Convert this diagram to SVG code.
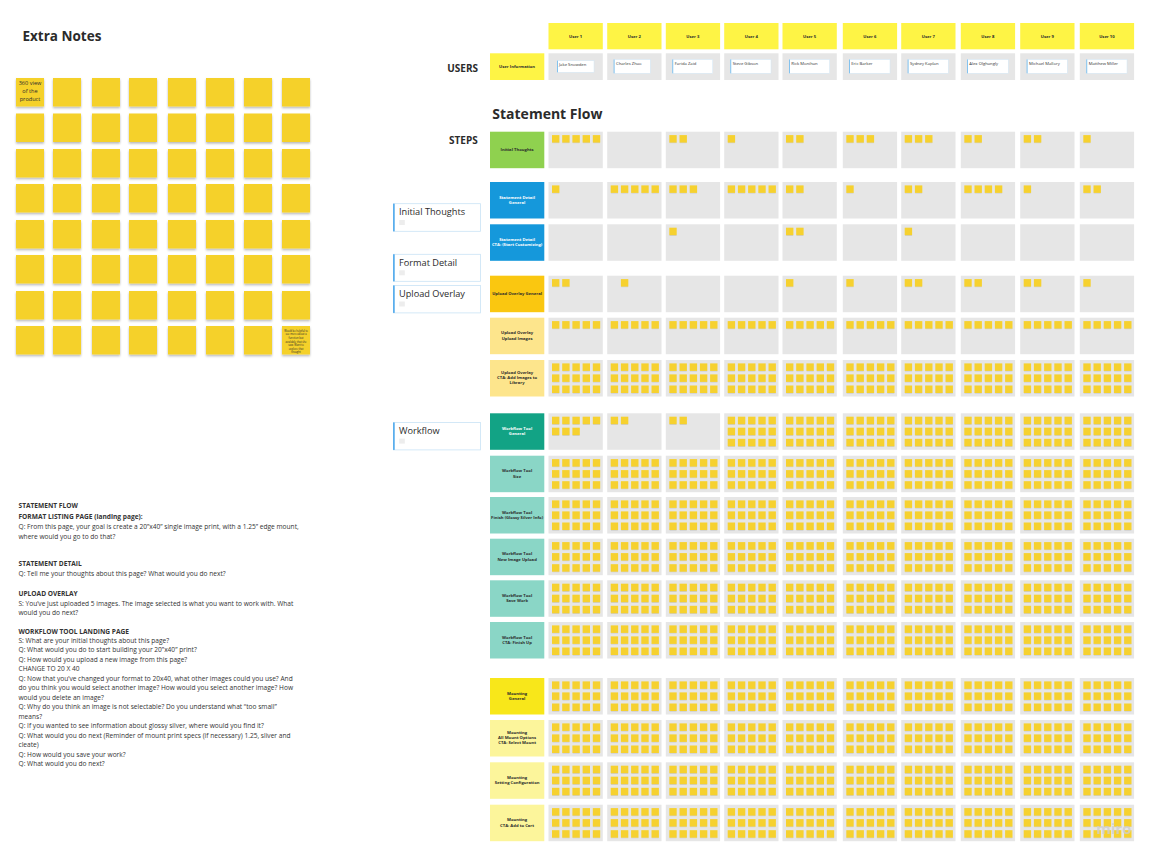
<svg xmlns="http://www.w3.org/2000/svg" xmlns:xlink="http://www.w3.org/1999/xlink" width="1158" height="862" viewBox="0 0 1158 862">
<style>
.cell{fill:#E6E6E6}
.st{fill:#F6D12F}
.sh{fill:#777;opacity:.3}
.big{fill:#F5D12C}
.t{font-family:"Open Sans","Liberation Sans",sans-serif;fill:#2b2b2b}
.b{font-weight:700}
.lbl{font-family:"Open Sans","Liberation Sans",sans-serif;font-weight:700;font-size:4.2px;text-anchor:middle;fill:#2b2b2b}
.w{fill:#fff}
.hd{fill:#FEF445}
.nm{font-family:"Open Sans","Liberation Sans",sans-serif;font-size:4.2px;fill:#333}
.ib{fill:#fff;stroke:#d2e8f7;stroke-width:.5}
.ibl{fill:#6BB7EC}
.body{font-family:"Open Sans","Liberation Sans",sans-serif;font-size:6.6px;fill:#333}
.side{fill:#fff;stroke:#c9e3f6;stroke-width:.8}
.sideb{fill:#4DA8EC}
.sq{fill:#EDEDED}
</style>
<defs>
<filter id="ds" x="-20%" y="-20%" width="140%" height="150%"><feDropShadow dx="0" dy="1.6" stdDeviation="0.9" flood-color="#000" flood-opacity="0.28"/></filter>
<g id="s"><rect class="sh" x="0.3" y="7.3" width="6.9" height="0.7"/><rect class="st" width="7.4" height="7.5"/></g>
<rect id="c" class="cell" width="54.3" height="36.5"/>
<g id="p1"><use href="#c"/><use href="#s" x="3.5" y="3.4"/></g>
<g id="p2"><use href="#p1"/><use href="#s" x="13.7" y="3.4"/></g>
<g id="p3"><use href="#p2"/><use href="#s" x="23.9" y="3.4"/></g>
<g id="p4"><use href="#p3"/><use href="#s" x="34.1" y="3.4"/></g>
<g id="p5"><use href="#p4"/><use href="#s" x="44.3" y="3.4"/></g>
<g id="p8"><use href="#p5"/><use href="#s" x="3.5" y="14.4"/><use href="#s" x="13.7" y="14.4"/><use href="#s" x="23.9" y="14.4"/></g>
<g id="full"><use href="#p5"/>
<use href="#s" x="3.5" y="14.4"/><use href="#s" x="13.7" y="14.4"/><use href="#s" x="23.9" y="14.4"/><use href="#s" x="34.1" y="14.4"/><use href="#s" x="44.3" y="14.4"/>
<use href="#s" x="3.5" y="25.5"/><use href="#s" x="13.7" y="25.5"/><use href="#s" x="23.9" y="25.5"/><use href="#s" x="34.1" y="25.5"/><use href="#s" x="44.3" y="25.5"/></g>
<g id="fullrow"><use href="#full" x="548.5"/><use href="#full" x="607.2"/><use href="#full" x="665.8"/><use href="#full" x="724.2"/><use href="#full" x="782.5"/><use href="#full" x="842.8"/><use href="#full" x="901.2"/><use href="#full" x="960.8"/><use href="#full" x="1020.2"/><use href="#full" x="1079.8"/></g>
<g id="p5row"><use href="#p5" x="548.5"/><use href="#p5" x="607.2"/><use href="#p5" x="665.8"/><use href="#p5" x="724.2"/><use href="#p5" x="782.5"/><use href="#p5" x="842.8"/><use href="#p5" x="901.2"/><use href="#p5" x="960.8"/><use href="#p5" x="1020.2"/><use href="#p5" x="1079.8"/></g>
<rect id="big" class="big" width="28" height="28.5"/>
<g id="bigrow" filter="url(#ds)"><use href="#big" x="16"/><use href="#big" x="53"/><use href="#big" x="92"/><use href="#big" x="129"/><use href="#big" x="168"/><use href="#big" x="206"/><use href="#big" x="244"/><use href="#big" x="282"/></g>
</defs>
<rect width="1158" height="862" fill="#fff"/>

<g id="extra-notes">
<text class="t b" x="22.5" y="41" font-size="13.5">Extra Notes</text>
<use href="#bigrow" y="78"/><use href="#bigrow" y="113.5"/><use href="#bigrow" y="149"/><use href="#bigrow" y="184"/>
<use href="#bigrow" y="220"/><use href="#bigrow" y="255"/><use href="#bigrow" y="291"/><use href="#bigrow" y="326"/>
<text class="t" font-size="5.6" text-anchor="middle"><tspan x="30" y="84.8">360 view</tspan><tspan x="30" y="92.8">of the</tspan><tspan x="30" y="100.8">product</tspan></text>
<text class="t" font-size="2.6" text-anchor="middle"><tspan x="296" y="331.5">Would be helpful to</tspan><tspan x="296" y="335">see more about a</tspan><tspan x="296" y="338.5">function but</tspan><tspan x="296" y="342.5">available that she</tspan><tspan x="296" y="346">saw. Want to</tspan><tspan x="296" y="349.5">explore that</tspan><tspan x="296" y="353">thought</tspan></text>
</g>

<g id="notes-text" class="body">
<text class="b" x="18.5" y="508.4">STATEMENT FLOW</text>
<text class="b" x="18.5" y="519">FORMAT LISTING PAGE (landing page):</text>
<text x="18.5" y="529">Q: From this page, your goal is create a 20”x40” single image print, with a 1.25” edge mount,</text>
<text x="18.5" y="539">where would you go to do that?</text>
<text class="b" x="18.5" y="566.4">STATEMENT DETAIL</text>
<text x="18.5" y="576.4">Q: Tell me your thoughts about this page? What would you do next?</text>
<text class="b" x="18.5" y="595.7">UPLOAD OVERLAY</text>
<text x="18.5" y="605.7">S: You’ve just uploaded 5 images. The image selected is what you want to work with. What</text>
<text x="18.5" y="615.1">would you do next?</text>
<text class="b" x="18.5" y="633.7">WORKFLOW TOOL LANDING PAGE</text>
<text x="18.5" y="643.1">S: What are your initial thoughts about this page?</text>
<text x="18.5" y="652.4">Q: What would you do to start building your 20”x40” print?</text>
<text x="18.5" y="661.7">Q: How would you upload a new image from this page?</text>
<text x="18.5" y="671.1">CHANGE TO 20 X 40</text>
<text x="18.5" y="681.1">Q: Now that you’ve changed your format to  20x40, what other images could you use? And</text>
<text x="18.5" y="690.4">do you think you would select another image? How would you select another image? How</text>
<text x="18.5" y="699.7">would you delete an image?</text>
<text x="18.5" y="709.1">Q: Why do you think an image is not selectable? Do you understand what “too small”</text>
<text x="18.5" y="719.1">means?</text>
<text x="18.5" y="728.4">Q: If you wanted to see information about glossy silver, where would you find it?</text>
<text x="18.5" y="737.7">Q: What would you do next (Reminder of mount print specs (if necessary) 1.25, sliver and</text>
<text x="18.5" y="747.1">cleate)</text>
<text x="18.5" y="757.1">Q: How would you save your work?</text>
<text x="18.5" y="766.4">Q: What would you do next?</text>
</g>

<g id="side-labels">
<g id="side-initial-thoughts"><rect class="side" x="393.5" y="203.7" width="87" height="27.6"/><rect class="sideb" x="393.1" y="203.7" width="1.6" height="27.6"/><text class="t" x="399" y="215.3" font-size="9.2" fill="#333">Initial Thoughts</text><rect class="sq" x="399.2" y="220" width="5.6" height="5"/></g>
<g id="side-format-detail"><rect class="side" x="393.5" y="254.3" width="87" height="27"/><rect class="sideb" x="393.1" y="254.3" width="1.6" height="27"/><text class="t" x="399" y="265.6" font-size="9.2" fill="#333">Format Detail</text><rect class="sq" x="399.2" y="270.3" width="5.6" height="5"/></g>
<g id="side-upload-overlay"><rect class="side" x="393.5" y="285.5" width="87" height="27.4"/><rect class="sideb" x="393.1" y="285.5" width="1.6" height="27.4"/><text class="t" x="399" y="296.8" font-size="9.2" fill="#333">Upload Overlay</text><rect class="sq" x="399.2" y="301.5" width="5.6" height="5"/></g>
<g id="side-workflow"><rect class="side" x="393.5" y="422.5" width="87" height="27.4"/><rect class="sideb" x="393.1" y="422.5" width="1.6" height="27.4"/><text class="t" x="399" y="434" font-size="9.2" fill="#333">Workflow</text><rect class="sq" x="399.2" y="438.6" width="5.6" height="5"/></g>
</g>

<g id="titles">
<text class="t b" x="478" y="72" font-size="10" text-anchor="end">USERS</text>
<text class="t b" x="492.3" y="119.3" font-size="14">Statement Flow</text>
<text class="t b" x="477.7" y="144" font-size="10" text-anchor="end">STEPS</text>
</g>

<g id="user-headers">
<rect class="hd" x="548.5" y="23" width="54.3" height="26.3"/><text class="lbl" x="575.6" y="37.5">User 1</text>
<rect class="hd" x="607.2" y="23" width="54.3" height="26.3"/><text class="lbl" x="634.3" y="37.5">User 2</text>
<rect class="hd" x="665.8" y="23" width="54.3" height="26.3"/><text class="lbl" x="692.9" y="37.5">User 3</text>
<rect class="hd" x="724.2" y="23" width="54.3" height="26.3"/><text class="lbl" x="751.3" y="37.5">User 4</text>
<rect class="hd" x="782.5" y="23" width="54.3" height="26.3"/><text class="lbl" x="809.6" y="37.5">User 5</text>
<rect class="hd" x="842.8" y="23" width="54.3" height="26.3"/><text class="lbl" x="869.9" y="37.5">User 6</text>
<rect class="hd" x="901.2" y="23" width="54.3" height="26.3"/><text class="lbl" x="928.3" y="37.5">User 7</text>
<rect class="hd" x="960.8" y="23" width="54.3" height="26.3"/><text class="lbl" x="987.9" y="37.5">User 8</text>
<rect class="hd" x="1020.2" y="23" width="54.3" height="26.3"/><text class="lbl" x="1047.3" y="37.5">User 9</text>
<rect class="hd" x="1079.8" y="23" width="54.3" height="26.3"/><text class="lbl" x="1106.9" y="37.5">User 10</text>
</g>

<g id="user-information">
<rect class="hd" x="490" y="53.3" width="54.3" height="26.7"/><text class="lbl" x="517.1" y="68.2">User Information</text>
<rect class="cell" x="548.5" y="53.3" width="54.3" height="26.7"/><rect class="ib" x="557.3" y="60.7" width="36.7" height="11.6"/><rect class="ibl" x="557" y="60.7" width="0.8" height="11.6"/><text class="nm" x="559" y="66">Jake Snowden</text>
<rect class="cell" x="607.2" y="53.3" width="54.3" height="26.7"/><rect class="ib" x="614" y="59.5" width="36.3" height="13.8"/><rect class="ibl" x="613.7" y="59.5" width="0.8" height="13.8"/><text class="nm" x="616" y="65">Charles Zhao</text>
<rect class="cell" x="665.8" y="53.3" width="54.3" height="26.7"/><rect class="ib" x="672.7" y="59.5" width="40" height="13.8"/><rect class="ibl" x="672.4" y="59.5" width="0.8" height="13.8"/><text class="nm" x="674.7" y="65">Farida Zaid</text>
<rect class="cell" x="724.2" y="53.3" width="54.3" height="26.7"/><rect class="ib" x="730.7" y="59.5" width="40.3" height="13.8"/><rect class="ibl" x="730.4" y="59.5" width="0.8" height="13.8"/><text class="nm" x="732.7" y="65">Steve Gibson</text>
<rect class="cell" x="782.5" y="53.3" width="54.3" height="26.7"/><rect class="ib" x="789.3" y="59.5" width="40.3" height="13.8"/><rect class="ibl" x="789" y="59.5" width="0.8" height="13.8"/><text class="nm" x="791.3" y="65">Rick Monihan</text>
<rect class="cell" x="842.8" y="53.3" width="54.3" height="26.7"/><rect class="ib" x="849.3" y="59.5" width="40.7" height="13.8"/><rect class="ibl" x="849" y="59.5" width="0.8" height="13.8"/><text class="nm" x="851.3" y="65">Eric Barker</text>
<rect class="cell" x="901.2" y="53.3" width="54.3" height="26.7"/><rect class="ib" x="908" y="59.5" width="40.3" height="13.8"/><rect class="ibl" x="907.7" y="59.5" width="0.8" height="13.8"/><text class="nm" x="910" y="65">Sydney Kaplan</text>
<rect class="cell" x="960.8" y="53.3" width="54.3" height="26.7"/><rect class="ib" x="967.3" y="59.5" width="41" height="13.8"/><rect class="ibl" x="967" y="59.5" width="0.8" height="13.8"/><text class="nm" x="969.3" y="65">Alex Olghangly</text>
<rect class="cell" x="1020.2" y="53.3" width="54.3" height="26.7"/><rect class="ib" x="1027" y="59.5" width="40.3" height="13.8"/><rect class="ibl" x="1026.7" y="59.5" width="0.8" height="13.8"/><text class="nm" x="1029" y="65">Michael Mallory</text>
<rect class="cell" x="1079.8" y="53.3" width="54.3" height="26.7"/><rect class="ib" x="1086.7" y="59.5" width="40.3" height="13.8"/><rect class="ibl" x="1086.4" y="59.5" width="0.8" height="13.8"/><text class="nm" x="1088.7" y="65">Matthew Miller</text>
</g>

<g id="row-initial-thoughts">
<rect x="490" y="131.7" width="54.3" height="36.5" fill="#8FD14F"/><text class="lbl" x="517.1" y="151.4">Initial Thoughts</text>
<use href="#p5" x="548.5" y="131.7"/><use href="#c" x="607.2" y="131.7"/><use href="#p2" x="665.8" y="131.7"/><use href="#p1" x="724.2" y="131.7"/><use href="#p2" x="782.5" y="131.7"/>
<use href="#p3" x="842.8" y="131.7"/><use href="#p3" x="901.2" y="131.7"/><use href="#p2" x="960.8" y="131.7"/><use href="#p2" x="1020.2" y="131.7"/><use href="#p1" x="1079.8" y="131.7"/>
</g>
<g id="row-statement-detail-general">
<rect x="490" y="182" width="54.3" height="36.5" fill="#1598DB"/><text class="lbl w"><tspan x="517.1" y="198.6">Statement Detail</tspan><tspan x="517.1" y="203.8">General</tspan></text>
<use href="#p1" x="548.5" y="182"/><use href="#p5" x="607.2" y="182"/><use href="#p3" x="665.8" y="182"/><use href="#p5" x="724.2" y="182"/><use href="#p2" x="782.5" y="182"/>
<use href="#p1" x="842.8" y="182"/><use href="#p2" x="901.2" y="182"/><use href="#p4" x="960.8" y="182"/><use href="#p1" x="1020.2" y="182"/><use href="#p2" x="1079.8" y="182"/>
</g>
<g id="row-statement-detail-cta">
<rect x="490" y="224.3" width="54.3" height="36.5" fill="#1598DB"/><text class="lbl w"><tspan x="517.1" y="240.9">Statement Detail</tspan><tspan x="517.1" y="246.1">CTA: (Start Customizing)</tspan></text>
<use href="#c" x="548.5" y="224.3"/><use href="#c" x="607.2" y="224.3"/><use href="#p1" x="665.8" y="224.3"/><use href="#c" x="724.2" y="224.3"/><use href="#p2" x="782.5" y="224.3"/>
<use href="#c" x="842.8" y="224.3"/><use href="#p1" x="901.2" y="224.3"/><use href="#c" x="960.8" y="224.3"/><use href="#c" x="1020.2" y="224.3"/><use href="#c" x="1079.8" y="224.3"/>
</g>
<g id="row-upload-overlay-general">
<rect x="490" y="275.7" width="54.3" height="36.5" fill="#FAC710"/><text class="lbl" x="517.1" y="295.4">Upload Overlay General</text>
<use href="#p2" x="548.5" y="275.7"/><use href="#c" x="607.2" y="275.7"/><use href="#s" x="620.9" y="279.1"/><use href="#c" x="665.8" y="275.7"/><use href="#c" x="724.2" y="275.7"/><use href="#p1" x="782.5" y="275.7"/>
<use href="#p1" x="842.8" y="275.7"/><use href="#p2" x="901.2" y="275.7"/><use href="#p2" x="960.8" y="275.7"/><use href="#p2" x="1020.2" y="275.7"/><use href="#p1" x="1079.8" y="275.7"/>
</g>
<g id="row-upload-overlay-images">
<rect x="490" y="317.7" width="54.3" height="36.5" fill="#FDE58C"/><text class="lbl"><tspan x="517.1" y="334.3">Upload Overlay</tspan><tspan x="517.1" y="339.5">Upload Images</tspan></text>
<use href="#p5row" y="317.7"/>
</g>
<g id="row-upload-overlay-cta">
<rect x="490" y="360" width="54.3" height="36.5" fill="#FDE58C"/><text class="lbl"><tspan x="517.1" y="374">Upload Overlay</tspan><tspan x="517.1" y="379.2">CTA: Add Images to</tspan><tspan x="517.1" y="384.4">Library</tspan></text>
<use href="#fullrow" y="360"/>
</g>
<g id="row-workflow-general">
<rect x="490" y="413.3" width="54.3" height="36.5" fill="#12A385"/><text class="lbl w"><tspan x="517.1" y="429.9">Workflow Tool</tspan><tspan x="517.1" y="435.1">General</tspan></text>
<use href="#p8" x="548.5" y="413.3"/><use href="#p2" x="607.2" y="413.3"/><use href="#p2" x="665.8" y="413.3"/><use href="#full" x="724.2" y="413.3"/><use href="#full" x="782.5" y="413.3"/>
<use href="#full" x="842.8" y="413.3"/><use href="#full" x="901.2" y="413.3"/><use href="#full" x="960.8" y="413.3"/><use href="#full" x="1020.2" y="413.3"/><use href="#full" x="1079.8" y="413.3"/>
</g>
<g id="row-workflow-size">
<rect x="490" y="455.7" width="54.3" height="36.5" fill="#8AD6C6"/><text class="lbl"><tspan x="517.1" y="472.3">Workflow Tool</tspan><tspan x="517.1" y="477.5">Size</tspan></text>
<use href="#fullrow" y="455.7"/>
</g>
<g id="row-workflow-finish">
<rect x="490" y="497" width="54.3" height="36.5" fill="#8AD6C6"/><text class="lbl"><tspan x="517.1" y="513.6">Workflow Tool</tspan><tspan x="517.1" y="518.8">Finish (Glossy Silver Info)</tspan></text>
<use href="#fullrow" y="497"/>
</g>
<g id="row-workflow-new-image">
<rect x="490" y="538.7" width="54.3" height="36.5" fill="#8AD6C6"/><text class="lbl"><tspan x="517.1" y="555.3">Workflow Tool</tspan><tspan x="517.1" y="560.5">New Image Upload</tspan></text>
<use href="#fullrow" y="538.7"/>
</g>
<g id="row-workflow-save">
<rect x="490" y="580.3" width="54.3" height="36.5" fill="#8AD6C6"/><text class="lbl"><tspan x="517.1" y="596.9">Workflow Tool</tspan><tspan x="517.1" y="602.1">Save Work</tspan></text>
<use href="#fullrow" y="580.3"/>
</g>
<g id="row-workflow-cta">
<rect x="490" y="622" width="54.3" height="36.5" fill="#8AD6C6"/><text class="lbl"><tspan x="517.1" y="638.6">Workflow Tool</tspan><tspan x="517.1" y="643.8">CTA: Finish Up</tspan></text>
<use href="#fullrow" y="622"/>
</g>
<g id="row-mounting-general">
<rect x="490" y="678" width="54.3" height="36.5" fill="#F8E71A"/><text class="lbl"><tspan x="517.1" y="694.6">Mounting</tspan><tspan x="517.1" y="699.8">General</tspan></text>
<use href="#fullrow" y="678"/>
</g>
<g id="row-mounting-options">
<rect x="490" y="720" width="54.3" height="36.5" fill="#FCF59B"/><text class="lbl"><tspan x="517.1" y="734">Mounting</tspan><tspan x="517.1" y="739.2">All Mount Options</tspan><tspan x="517.1" y="744.4">CTA: Select Mount</tspan></text>
<use href="#fullrow" y="720"/>
</g>
<g id="row-mounting-setting">
<rect x="490" y="762.3" width="54.3" height="36.5" fill="#FCF59B"/><text class="lbl"><tspan x="517.1" y="778.9">Mounting</tspan><tspan x="517.1" y="784.1">Setting Configuration</tspan></text>
<use href="#fullrow" y="762.3"/>
</g>
<g id="row-mounting-cta">
<rect x="490" y="804.7" width="54.3" height="36.5" fill="#FCF59B"/><text class="lbl"><tspan x="517.1" y="821.3">Mounting</tspan><tspan x="517.1" y="826.5">CTA: Add to Cart</tspan></text>
<use href="#fullrow" y="804.7"/>
</g>

<g id="connectors"/>
<text x="1096" y="834" font-family="Open Sans, Liberation Sans, sans-serif" font-weight="700" font-size="15" fill="#cfcfcf" opacity="0.8">miro</text>
</svg>
